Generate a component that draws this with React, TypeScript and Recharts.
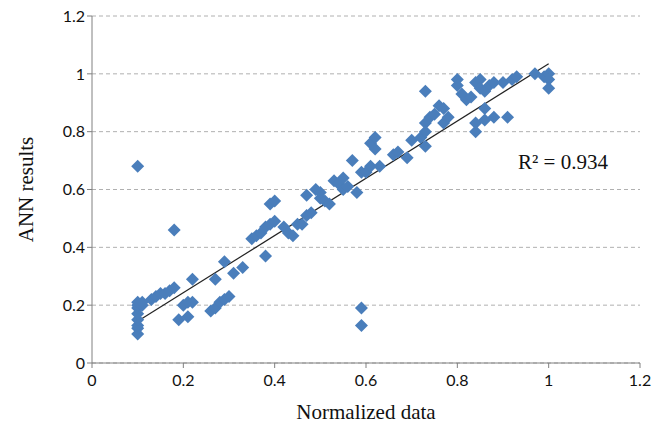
import React from 'react';
import { ScatterChart, Scatter, XAxis, YAxis, CartesianGrid, ReferenceLine } from 'recharts';

// normalized data (x) vs ANN results (y)
const normalized = [
  0.1, 0.1, 0.1, 0.1, 0.1, 0.1, 0.1, 0.1, 0.1, 0.11, 0.11,
  0.13, 0.14, 0.15, 0.16, 0.17, 0.18, 0.18,
  0.19, 0.2, 0.21, 0.21, 0.22, 0.22,
  0.26, 0.27, 0.27, 0.28, 0.29, 0.29, 0.3, 0.31, 0.33,
  0.35, 0.36, 0.37, 0.38, 0.38, 0.39, 0.39, 0.4, 0.4,
  0.42, 0.43, 0.44, 0.45, 0.46, 0.47, 0.47, 0.48, 0.49, 0.5, 0.5, 0.51, 0.52,
  0.53, 0.54, 0.55, 0.55, 0.56, 0.57, 0.58, 0.59, 0.6, 0.61, 0.61, 0.62, 0.62, 0.63,
  0.59, 0.59,
  0.66, 0.67, 0.69, 0.7, 0.72, 0.73, 0.73, 0.73, 0.73, 0.74, 0.75, 0.76, 0.77, 0.77, 0.78,
  0.8, 0.8, 0.81, 0.82, 0.83, 0.84, 0.84, 0.84, 0.85, 0.85, 0.86, 0.86, 0.86,
  0.87, 0.88, 0.88, 0.9, 0.91, 0.92, 0.93, 0.97, 0.99, 1.0, 1.0, 1.0,
];
const annResults = [
  0.1, 0.12, 0.13, 0.15, 0.17, 0.19, 0.2, 0.21, 0.68, 0.2, 0.21,
  0.22, 0.23, 0.24, 0.24, 0.25, 0.26, 0.46,
  0.15, 0.2, 0.16, 0.21, 0.29, 0.21,
  0.18, 0.19, 0.29, 0.21, 0.22, 0.35, 0.23, 0.31, 0.33,
  0.43, 0.44, 0.45, 0.37, 0.47, 0.48, 0.55, 0.56, 0.49,
  0.47, 0.45, 0.44, 0.48, 0.48, 0.58, 0.51, 0.52, 0.6, 0.57, 0.59, 0.56, 0.55,
  0.63, 0.62, 0.6, 0.64, 0.61, 0.7, 0.59, 0.66, 0.66, 0.68, 0.76, 0.78, 0.74, 0.68,
  0.19, 0.13,
  0.72, 0.73, 0.71, 0.77, 0.78, 0.94, 0.83, 0.8, 0.75, 0.85, 0.86, 0.89, 0.88, 0.83, 0.85,
  0.98, 0.96, 0.93, 0.91, 0.92, 0.8, 0.83, 0.97, 0.98, 0.95, 0.94, 0.88, 0.84,
  0.96, 0.97, 0.85, 0.97, 0.85, 0.98, 0.99, 1.0, 0.99, 1.0, 0.98, 0.95,
];
const ticks = [0, 0.2, 0.4, 0.6, 0.8, 1, 1.2];
const trend = [
  { x: 0.1, y: 0.144 },
  { x: 1.0, y: 1.035 },
];
const r2Label = 'R² = 0.934';

const points = normalized.map((x, i) => ({ x, y: annResults[i] }));

const Diamond = (props: any) => {
  const { cx, cy } = props;
  const h = 6.5;
  return (
    <path
      d={`M${cx},${cy - h}L${cx + h},${cy}L${cx},${cy + h}L${cx - h},${cy}Z`}
      fill="#4a7ebb"
    />
  );
};

const tickStyle = { fontFamily: 'Lato, "Open Sans", sans-serif', fontSize: 16, fill: '#111' };
const titleStyle = { fontFamily: '"Liberation Serif", serif', fontSize: 21, fill: '#111' };

export default function App() {
  return (
    <div style={{ position: 'relative', width: 664, height: 431, background: '#fff' }}>
      <style>{'body{margin:0}'}</style>
      <ScatterChart width={664} height={431} margin={{ top: 16, right: 24, bottom: 12, left: 0 }}>
        <CartesianGrid vertical={false} stroke="#b0b0b0" strokeDasharray="4 3" />
        <XAxis
          type="number"
          dataKey="x"
          domain={[0, 1.2]}
          ticks={ticks}
          tickFormatter={(v: number) => String(v)}
          height={56}
          stroke="#808080"
          tick={{ ...tickStyle, dy: 5 }}
          tickSize={5}
          label={{ value: 'Normalized data', position: 'insideBottom', offset: 0, style: titleStyle }}
        />
        <YAxis
          type="number"
          dataKey="y"
          domain={[0, 1.2]}
          ticks={ticks}
          tickFormatter={(v: number) => String(v)}
          width={92}
          stroke="#808080"
          tick={tickStyle}
          tickSize={5}
          label={{
            value: 'ANN results',
            angle: -90,
            position: 'insideLeft',
            offset: 26,
            style: { ...titleStyle, textAnchor: 'middle' },
          }}
        />
        <Scatter data={points} shape={Diamond} isAnimationActive={false} />
        <ReferenceLine segment={trend} stroke="#222" strokeWidth={1.2} ifOverflow="visible" />
      </ScatterChart>
      <div
        style={{
          position: 'absolute',
          left: 518,
          top: 150,
          fontFamily: '"Liberation Serif", serif',
          fontSize: 21,
          color: '#111',
        }}
      >
        {r2Label}
      </div>
    </div>
  );
}
